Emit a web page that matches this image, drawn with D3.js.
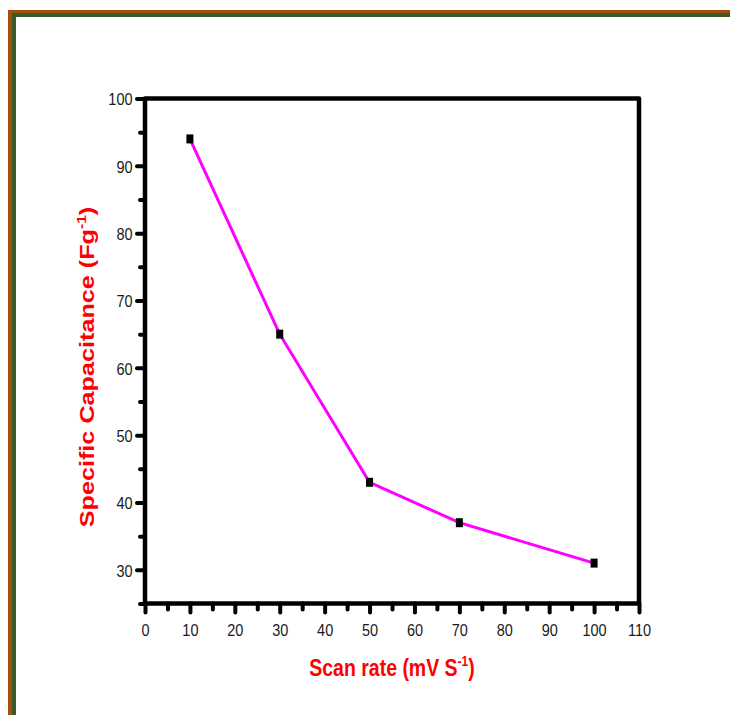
<!DOCTYPE html>
<html>
<head>
<meta charset="utf-8">
<script src="https://cdn.jsdelivr.net/npm/d3@7"></script>
<style>
  body { margin: 0; background: #fff; }
  svg { display: block; }
</style>
</head>
<body>
<div id="wrapper"></div>
<script>
// data
const scanRates = [10, 30, 50, 70, 100]
const capacitance = [94, 65, 43, 37, 31]
const xMajorTicks = [0, 10, 20, 30, 40, 50, 60, 70, 80, 90, 100, 110]
const xMinorTicks = [5, 15, 25, 35, 45, 55, 65, 75, 85, 95, 105]
const yMajorTicks = [30, 40, 50, 60, 70, 80, 90, 100]
const yMinorTicks = [25, 35, 45, 55, 65, 75, 85, 95]
const xLabel = "Scan rate (mV S"
const yLabel = "Specific Capacitance (Fg"

function drawChart() {
  const dimensions = {
    width: 730,
    height: 715,
    margin: { top: 98.5, right: 91, bottom: 111.5, left: 145 }
  }
  dimensions.boundedWidth = dimensions.width - dimensions.margin.left - dimensions.margin.right
  dimensions.boundedHeight = dimensions.height - dimensions.margin.top - dimensions.margin.bottom

  const stretch = 1.2 // the picture is stretched up and down

  const svg = d3.select("#wrapper").append("svg")
    .attr("width", dimensions.width)
    .attr("height", dimensions.height)

  // frame of the page
  svg.append("rect").attr("x", 8).attr("y", 10).attr("width", 800).attr("height", 800).attr("fill", "#a24f0d")
  svg.append("rect").attr("x", 12).attr("y", 13).attr("width", 800).attr("height", 800).attr("fill", "#3b5a2b")
  svg.append("rect").attr("x", 16).attr("y", 17).attr("width", 800).attr("height", 800).attr("fill", "#ffffff")

  const bounds = svg.append("g")
    .attr("transform", `translate(${dimensions.margin.left},${dimensions.margin.top})`)

  const xScale = d3.scaleLinear().domain([0, 110]).range([0, dimensions.boundedWidth])
  const yScale = d3.scaleLinear().domain([25, 100]).range([dimensions.boundedHeight, 0])

  // axes
  const styleAxis = g => {
    g.select(".domain").remove()
    g.selectAll(".tick line")
      .attr("stroke", "#000")
      .attr("stroke-width", 4)
      .attr("stroke-linecap", "round")
  }

  const xMajor = bounds.append("g")
    .attr("transform", `translate(0,${dimensions.boundedHeight})`)
    .call(d3.axisBottom(xScale).tickValues(xMajorTicks).tickSize(9).tickFormat(""))
    .call(styleAxis)
  bounds.append("g")
    .attr("transform", `translate(0,${dimensions.boundedHeight})`)
    .call(d3.axisBottom(xScale).tickValues(xMinorTicks).tickSize(6).tickFormat(""))
    .call(styleAxis)
  const yMajor = bounds.append("g")
    .call(d3.axisLeft(yScale).tickValues(yMajorTicks).tickSize(8).tickFormat(""))
    .call(styleAxis)
  bounds.append("g")
    .call(d3.axisLeft(yScale).tickValues(yMinorTicks).tickSize(5).tickFormat(""))
    .call(styleAxis)

  // tick labels, stretched like the picture
  xMajor.selectAll(".tick").append("text")
    .attr("transform", `translate(0,32.5) scale(1,${stretch})`)
    .attr("text-anchor", "middle")
    .attr("fill", "#1a1a1a")
    .style("font-family", "Arial, 'Liberation Sans', sans-serif")
    .style("font-size", "14.5px")
    .text(d => d)
  yMajor.selectAll(".tick").append("text")
    .attr("transform", `translate(-12.5,6.2) scale(1,${stretch})`)
    .attr("text-anchor", "end")
    .attr("fill", "#1a1a1a")
    .style("font-family", "Arial, 'Liberation Sans', sans-serif")
    .style("font-size", "14.5px")
    .text(d => d)

  // plot frame
  bounds.append("rect")
    .attr("x", 0)
    .attr("y", 0)
    .attr("width", dimensions.boundedWidth)
    .attr("height", dimensions.boundedHeight)
    .attr("fill", "none")
    .attr("stroke", "#000")
    .attr("stroke-width", 4.5)
    .attr("stroke-linejoin", "round")

  // data
  const points = scanRates.map((x, i) => ({ x, y: capacitance[i] }))
  const lineGenerator = d3.line()
    .x(d => xScale(d.x))
    .y(d => yScale(d.y))
  bounds.append("path")
    .attr("d", lineGenerator(points))
    .attr("fill", "none")
    .attr("stroke", "#ff00ff")
    .attr("stroke-width", 3)

  bounds.selectAll(".marker")
    .data(points)
    .join("rect")
    .attr("class", "marker")
    .attr("x", d => xScale(d.x) - 3.5)
    .attr("y", d => yScale(d.y) - 4.5)
    .attr("width", 7)
    .attr("height", 9)
    .attr("fill", "#000")

  // axis titles
  const xTitle = svg.append("text")
    .attr("transform", `translate(392,676) scale(1,${stretch})`)
    .attr("text-anchor", "middle")
    .attr("fill", "#ff0000")
    .style("font-family", "Arial, 'Liberation Sans', sans-serif")
    .style("font-size", "19.5px")
    .style("font-weight", "bold")
  xTitle.append("tspan").text(xLabel)
  xTitle.append("tspan").attr("dy", -8).style("font-size", "12px").text("-1")
  xTitle.append("tspan").attr("dy", 8).text(")")

  const yTitle = svg.append("text")
    .attr("transform", `translate(94,367) scale(1,${stretch}) rotate(-90)`)
    .attr("text-anchor", "middle")
    .attr("fill", "#ff0000")
    .style("font-family", "Arial, 'Liberation Sans', sans-serif")
    .style("font-size", "21px")
    .style("font-weight", "bold")
  yTitle.append("tspan").text(yLabel)
  yTitle.append("tspan").attr("dy", -8).style("font-size", "13px").text("-1")
  yTitle.append("tspan").attr("dy", 8).text(")")
}

drawChart()
</script>
</body>
</html>
